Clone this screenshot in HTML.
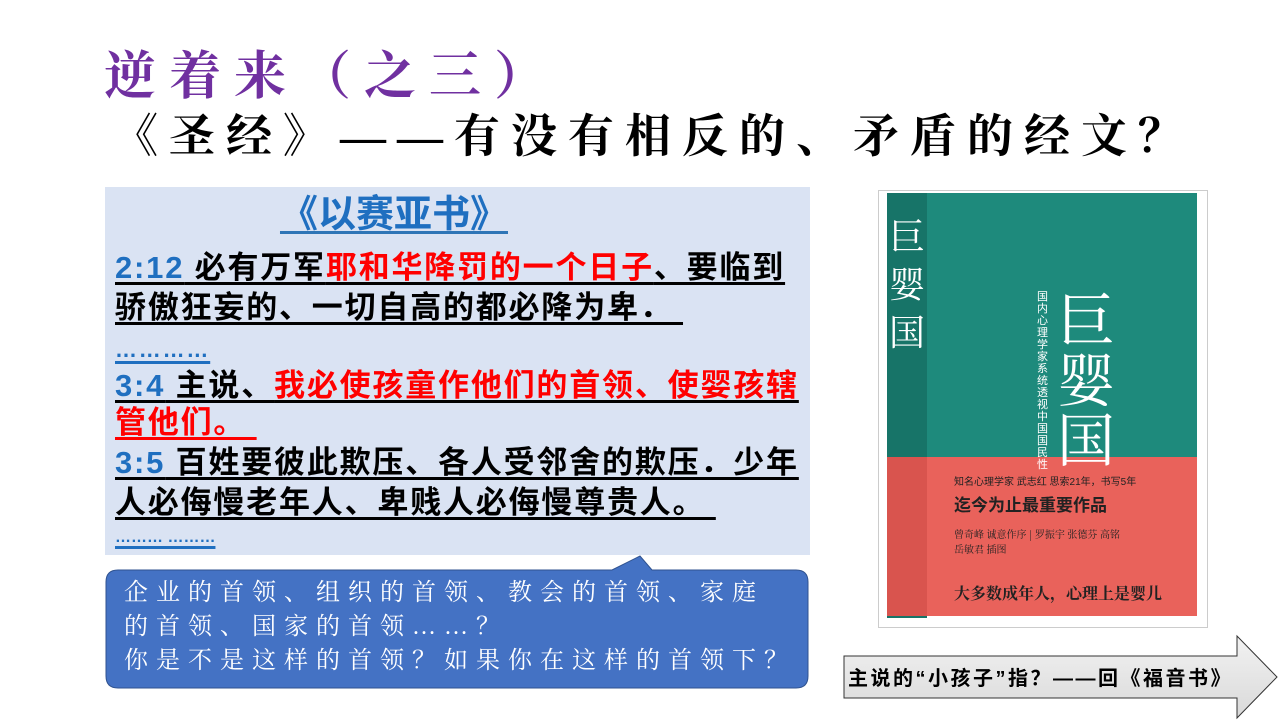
<!DOCTYPE html>
<html><head><meta charset="utf-8">
<style>
*{margin:0;padding:0;box-sizing:border-box}
body{width:1280px;height:720px;background:#fff;position:relative;overflow:hidden;font-family:"Liberation Sans","Noto Sans CJK SC",sans-serif}
.a{position:absolute;white-space:nowrap}
.t{font-weight:bold;font-size:31px;line-height:36px;color:#000;letter-spacing:1.8px}
.u{text-decoration:underline;text-decoration-thickness:3px;text-underline-offset:4px}
.b{color:#1f6fc0}.r{color:#f00}
</style></head><body>
<div class="a" style="left:104px;top:34px;font-family:'Liberation Serif','Noto Serif CJK SC',serif;font-weight:bold;font-size:52px;color:#7030a0;letter-spacing:13px">逆着来（之三）</div>
<div class="a" style="left:112px;top:100px;font-family:'Liberation Serif','Noto Serif CJK SC',serif;font-weight:bold;font-size:46px;color:#000;letter-spacing:11px">《圣经》——有没有相反的、矛盾的经文？</div>

<div class="a" style="left:105px;top:187px;width:705px;height:368px;background:#dae3f3"></div>
<div class="a u b" style="left:115px;top:194px;width:403px;text-align:right;padding-right:10px;font-weight:bold;font-size:38px;line-height:42px;text-decoration-color:#2e75b6">《以赛亚书》</div>
<div class="a t u" style="left:115px;top:250px"><span class="b">2:12</span> 必有万军<span class="r">耶和华降罚的一个日子</span>、要临到</div>
<div class="a t u" style="left:115px;top:290px">骄傲狂妄的、一切自高的都必降为卑．&nbsp;</div>
<div class="a t u b" style="left:115px;top:332px;font-size:22px">…………</div>
<div class="a t u" style="left:115px;top:368px"><span class="b">3:4</span> 主说、<span class="r">我必使孩童作他们的首领、使婴孩辖</span></div>
<div class="a t u r" style="left:115px;top:405px">管他们。&nbsp;</div>
<div class="a t u" style="left:115px;top:445px"><span class="b">3:5</span> 百姓要彼此欺压、各人受邻舍的欺压．少年</div>
<div class="a t u" style="left:115px;top:485px">人必侮慢老年人、卑贱人必侮慢尊贵人。&nbsp;</div>
<div class="a t u b" style="left:115px;top:520px;font-size:16px;letter-spacing:0">………&nbsp;………</div>

<svg class="a" style="left:0;top:0" width="1280" height="720">
<path d="M118 570 H612 L640 556 L652 570 H796 Q808 570 808 582 V676 Q808 688 796 688 H118 Q106 688 106 676 V582 Q106 570 118 570 Z" fill="#4472c4" stroke="#2f528f" stroke-width="1"/>
<defs><linearGradient id="g" x1="0" y1="0" x2="0" y2="1"><stop offset="0" stop-color="#f2f2f2"/><stop offset="1" stop-color="#d9d9d9"/></linearGradient></defs>
<path d="M844 656 H1237 V636 L1277 677 L1237 718 V698 H844 Z" fill="url(#g)" stroke="#333" stroke-width="1"/>
</svg>
<div class="a" style="left:124px;top:576px;color:#fff;font-family:'Liberation Serif','Noto Serif CJK SC',serif;font-size:24px;line-height:34px;letter-spacing:8px">企业的首领、组织的首领、教会的首领、家庭<br>的首领、国家的首领……？<br>你是不是这样的首领？如果你在这样的首领下？</div>

<div class="a" style="left:878px;top:190px;width:330px;height:438px;border:1px solid #ccc;background:#fff">
 <div class="a" style="left:8px;top:2px;width:310px;height:264px;background:#1e8a7c"></div>
 <div class="a" style="left:8px;top:2px;width:40px;height:425px;background:#177468"></div>
 <div class="a" style="left:8px;top:266px;width:310px;height:159px;background:#e9625b"></div>
 <div class="a" style="left:8px;top:266px;width:40px;height:159px;background:#d9544e"></div>
 <div class="a" style="left:10px;top:20px;color:#fff;font-size:36px;line-height:48px;width:36px;font-family:'Noto Serif CJK SC',serif">巨<br>婴<br>国</div>
 <div class="a" style="left:178px;top:95px;color:#fff;font-size:58px;line-height:60px;width:66px;font-family:'Noto Serif CJK SC',serif">巨<br>婴<br>国</div>
 <div class="a" style="left:158px;top:100px;color:#fff;font-size:11px;line-height:12px;width:12px;white-space:normal">国内心理学家系统透视中国国民性</div>
 <div class="a" style="left:75px;top:300px;color:#222;font-size:17px;font-weight:bold">迄今为止最重要作品</div>
 <div class="a" style="left:75px;top:282px;color:#222;font-size:10px">知名心理学家 武志红 思索21年，书写5年</div>
 <div class="a" style="left:75px;top:335px;color:#222;font-size:10px;font-family:'Noto Serif CJK SC',serif">曾奇峰 诚意作序 | 罗振宇 张德芬 高铭<br>岳敏君 插图</div>
 <div class="a" style="left:75px;top:390px;color:#222;font-size:16px;font-weight:bold;font-family:'Noto Serif CJK SC',serif">大多数成年人，心理上是婴儿</div>
</div>
<div class="a" style="left:848px;top:662px;font-size:20px;font-weight:bold;color:#000;letter-spacing:2.5px">主说的“小孩子”指？——回《福音书》</div>
</body></html>
